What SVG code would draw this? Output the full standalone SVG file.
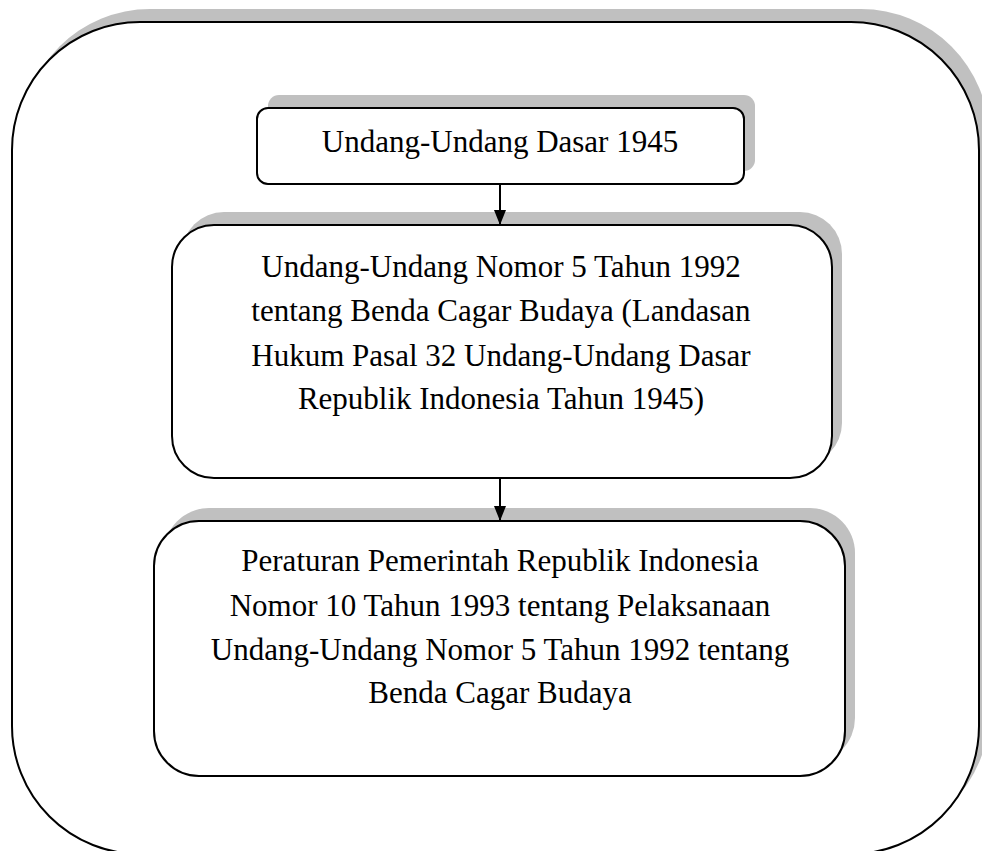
<svg xmlns="http://www.w3.org/2000/svg" width="982" height="851" viewBox="0 0 982 851">
<defs>
<style>
.sh{fill:#c0c0c0;stroke:none}
.bx{fill:#fff;stroke:#000;stroke-width:2}
.t{font-family:"Liberation Serif","Times New Roman",serif;font-size:31px;fill:#000;text-anchor:middle}
.cn{stroke:#000;stroke-width:2;fill:none}
</style>
<marker id="ah" markerWidth="15" markerHeight="12" refX="15" refY="6" orient="auto" markerUnits="userSpaceOnUse" viewBox="0 0 15 12">
<path d="M0,0 L15,6 L0,12 Z" fill="#000"/>
</marker>
</defs>
<rect width="982" height="851" fill="#fff"/>
<g id="outer">
<rect class="sh" x="22" y="9" width="967" height="832" rx="128" ry="128"/>
<rect class="bx" x="12" y="22" width="967" height="832" rx="128" ry="128"/>
</g>
<g id="node1">
<rect class="sh" x="268" y="95" width="487" height="76" rx="11" ry="11"/>
<rect class="bx" x="257" y="108" width="487" height="76" rx="11" ry="11"/>
<text class="t" x="500" y="152">Undang-Undang Dasar 1945</text>
</g>
<g id="node2">
<rect class="sh" x="182" y="212" width="660" height="253" rx="42" ry="42"/>
<rect class="bx" x="172" y="225" width="660" height="253" rx="42" ry="42"/>
<text class="t" x="501" y="277">Undang-Undang Nomor 5 Tahun 1992</text>
<text class="t" x="501" y="321">tentang Benda Cagar Budaya (Landasan</text>
<text class="t" x="501" y="366">Hukum Pasal 32 Undang-Undang Dasar</text>
<text class="t" x="501" y="409">Republik Indonesia Tahun 1945)</text>
</g>
<g id="node3">
<rect class="sh" x="164" y="508" width="691" height="255" rx="45" ry="45"/>
<rect class="bx" x="154" y="521" width="691" height="255" rx="45" ry="45"/>
<text class="t" x="500" y="571">Peraturan Pemerintah Republik Indonesia</text>
<text class="t" x="500" y="616">Nomor 10 Tahun 1993 tentang Pelaksanaan</text>
<text class="t" x="500" y="660">Undang-Undang Nomor 5 Tahun 1992 tentang</text>
<text class="t" x="500" y="703">Benda Cagar Budaya</text>
</g>
<g id="connectors">
<line class="cn" x1="500" y1="184" x2="500" y2="225" marker-end="url(#ah)"/>
<line class="cn" x1="500" y1="478" x2="500" y2="521" marker-end="url(#ah)"/>
</g>
</svg>
